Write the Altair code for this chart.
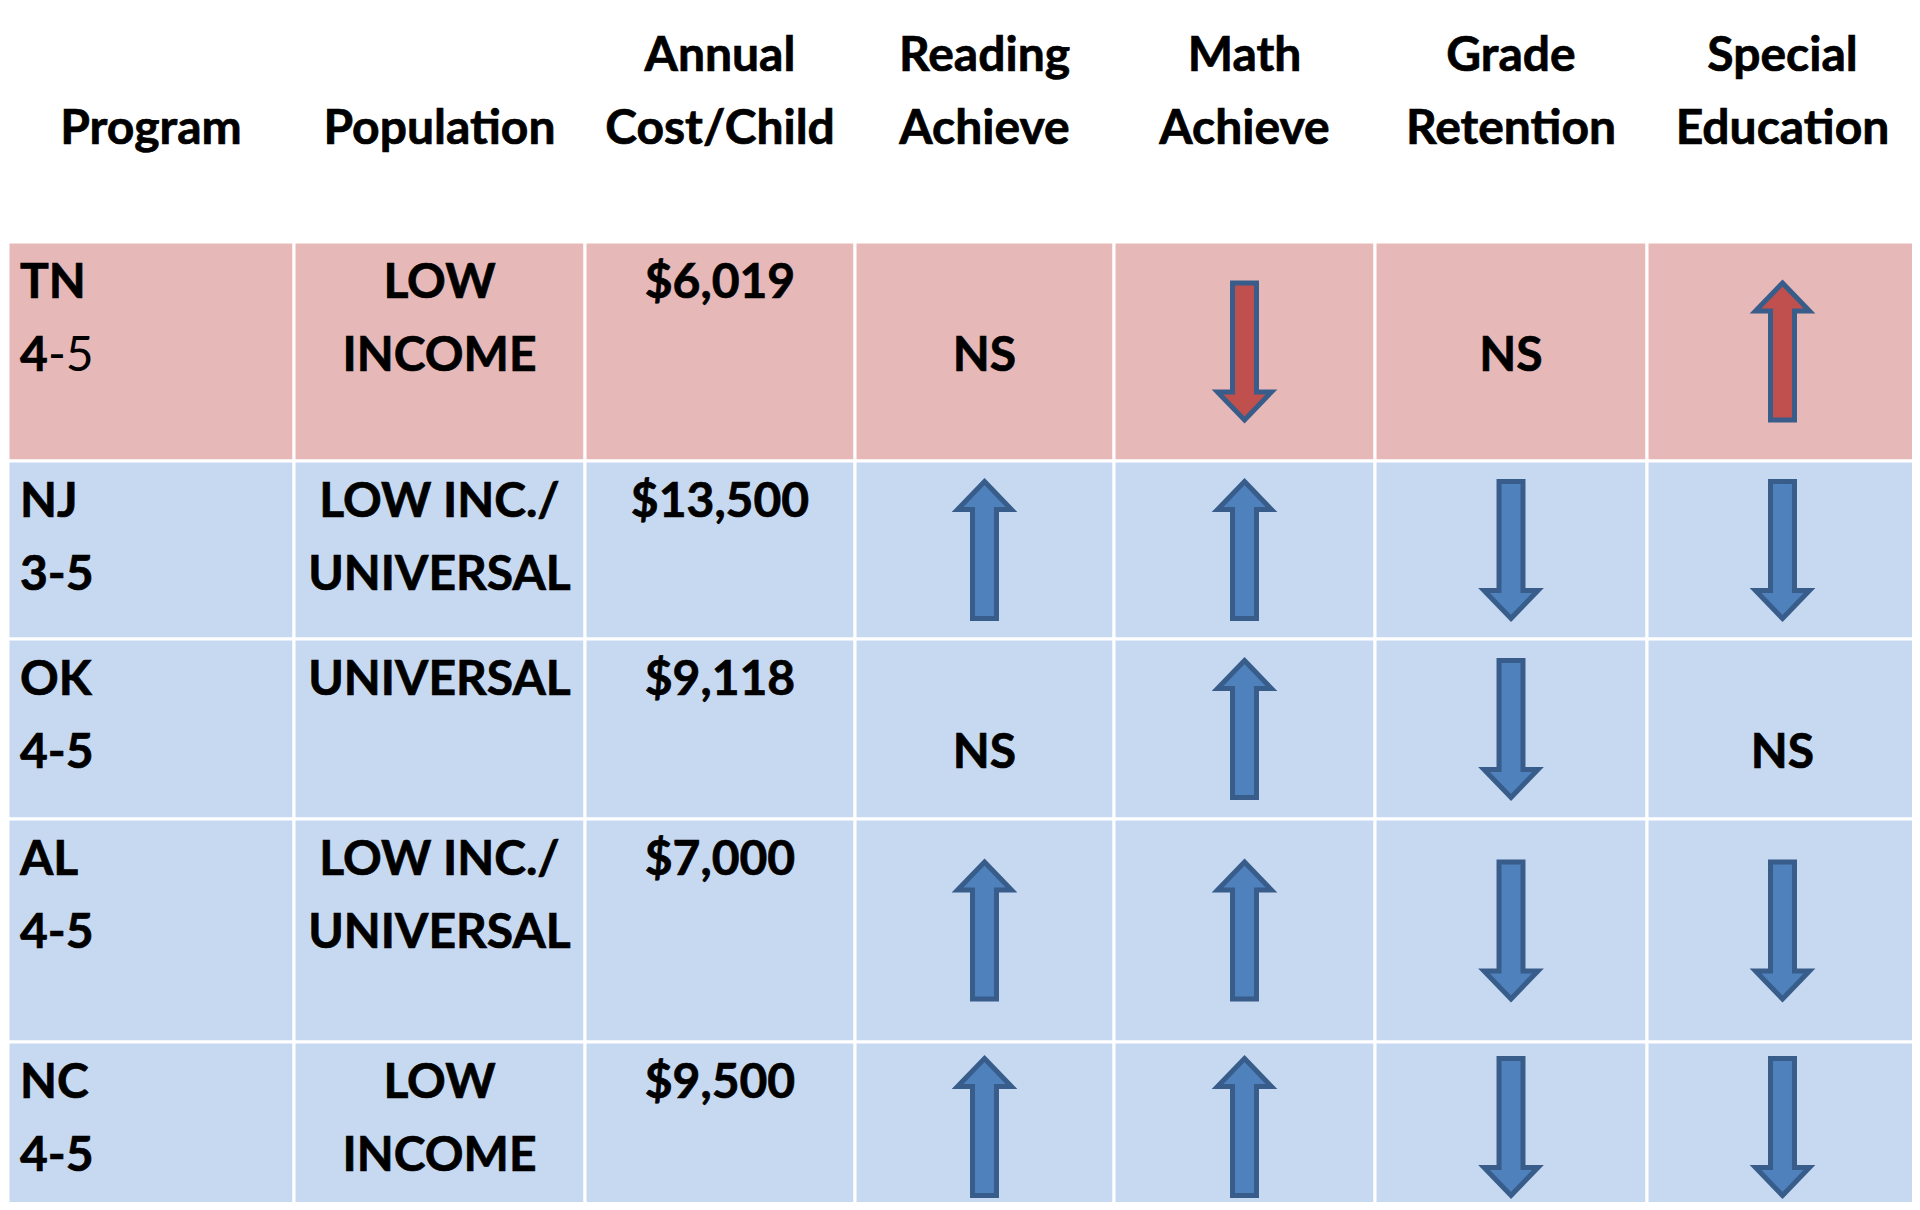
import altair as alt
import pandas as pd

# ---------------- data ----------------
HEADER_LINE1 = ["", "", "Annual", "Reading", "Math", "Grade", "Special"]
HEADER_LINE2 = ["Program", "Population", "Cost/Child", "Achieve", "Achieve", "Retention", "Education"]

STATES = ["TN", "NJ", "OK", "AL", "NC"]
AGE_BOLD = ["4", "3-5", "4-5", "4-5", "4-5"]
AGE_REGULAR = ["-5", "", "", "", ""]
POP_LINE1 = ["LOW", "LOW INC./", "UNIVERSAL", "LOW INC./", "LOW"]
POP_LINE2 = ["INCOME", "UNIVERSAL", "", "UNIVERSAL", "INCOME"]
COST = ["$6,019", "$13,500", "$9,118", "$7,000", "$9,500"]
READING = ["NS", "up", "NS", "up", "up"]
MATH = ["down", "up", "up", "up", "up"]
GRADE = ["NS", "down", "down", "down", "down"]
SPECIAL_ED = ["up", "down", "NS", "down", "down"]
ROW_TONE = ["adverse", "favorable", "favorable", "favorable", "favorable"]

# ---------------- layout ----------------
W, H = 1904, 1194
X_START, Y_START = 8, 6
COL_WIDTHS = [286, 291, 270, 259, 261, 272, 271]
ROW_HEIGHTS = [236, 219, 178, 180, 223, 170]
HEAD_LINE_OFF = (51, 124)
BODY_LINE_OFF = (42, 115)
LEFT_INSET = 12

col_edges = [X_START]
for w in COL_WIDTHS:
    col_edges.append(col_edges[-1] + w)
row_edges = [Y_START]
for h in ROW_HEIGHTS:
    row_edges.append(row_edges[-1] + h)
col_center = [(col_edges[i] + col_edges[i + 1]) / 2 for i in range(7)]

# cells
cells = []
for r in range(6):
    tone = "header" if r == 0 else ROW_TONE[r - 1]
    for c in range(7):
        cells.append(dict(x=col_edges[c], x2=col_edges[c + 1], y=row_edges[r], y2=row_edges[r + 1], tone=tone))
cells_df = pd.DataFrame(cells)

# centred text and arrows
center_txt = []
for c in range(7):
    if HEADER_LINE1[c]:
        center_txt.append(dict(x=col_center[c], y=Y_START + HEAD_LINE_OFF[0], t=HEADER_LINE1[c]))
    center_txt.append(dict(x=col_center[c], y=Y_START + HEAD_LINE_OFF[1], t=HEADER_LINE2[c]))
outcomes = [READING, MATH, GRADE, SPECIAL_ED]
arrows = []
for i in range(5):
    top = row_edges[i + 1]
    l1, l2 = top + BODY_LINE_OFF[0], top + BODY_LINE_OFF[1]
    if POP_LINE1[i]:
        center_txt.append(dict(x=col_center[1], y=l1, t=POP_LINE1[i]))
    if POP_LINE2[i]:
        center_txt.append(dict(x=col_center[1], y=l2, t=POP_LINE2[i]))
    center_txt.append(dict(x=col_center[2], y=l1, t=COST[i]))
    for k, series in enumerate(outcomes):
        v = series[i]
        c = 3 + k
        if v == "NS":
            center_txt.append(dict(x=col_center[c], y=l2, t="NS"))
        else:
            arrows.append(dict(x=col_center[c], y=(top + row_edges[i + 2]) / 2, dir=v, effect=ROW_TONE[i]))
center_df = pd.DataFrame(center_txt)
arrows_df = pd.DataFrame(arrows)

left_bold = []
left_reg = []
for i in range(5):
    top = row_edges[i + 1]
    left_bold.append(dict(x=col_edges[0] + LEFT_INSET, y=top + BODY_LINE_OFF[0], t=STATES[i]))
    left_bold.append(dict(x=col_edges[0] + LEFT_INSET, y=top + BODY_LINE_OFF[1], t=AGE_BOLD[i]))
    if AGE_REGULAR[i]:
        left_reg.append(dict(x=col_edges[0] + LEFT_INSET, y=top + BODY_LINE_OFF[1], t=AGE_REGULAR[i]))
left_bold_df = pd.DataFrame(left_bold)
left_reg_df = pd.DataFrame(left_reg)

xs = alt.Scale(domain=[X_START, X_START + W], nice=False, zero=False)
ys = alt.Scale(domain=[Y_START + 2 + H, Y_START + 2], nice=False, zero=False)
X = alt.X("x:Q", scale=xs, axis=None)
Y = alt.Y("y:Q", scale=ys, axis=None)

FONT = "Lato"
FS = 48
TXT = dict(font=FONT, fontSize=FS, fontWeight="bold", color="black", fill="black",
           stroke="black", strokeWidth=0.7, baseline="middle")

cells_layer = alt.Chart(cells_df).mark_rect(stroke="white", strokeWidth=3, clip=True).encode(
    x=X, x2="x2:Q", y=Y, y2="y2:Q",
    fill=alt.Fill("tone:N", scale=alt.Scale(domain=["header", "adverse", "favorable"],
                                             range=["#FFFFFF", "#E6B8B7", "#C6D9F1"]), legend=None),
)

center_layer = alt.Chart(center_df).mark_text(align="center", **TXT).encode(x=X, y=Y, text="t:N")
left_layer = alt.Chart(left_bold_df).mark_text(align="left", **TXT).encode(x=X, y=Y, text="t:N")
left_reg_layer = alt.Chart(left_reg_df).mark_text(font=FONT, fontSize=FS, fontWeight="normal", color="black",
                                                   align="left", baseline="middle", dx=28).encode(x=X, y=Y, text="t:N")

UP = "M0,-1 L0.394,-0.59 L0.175,-0.59 L0.175,1 L-0.175,1 L-0.175,-0.59 L-0.394,-0.59 Z"
DOWN = "M0,1 L0.394,0.59 L0.175,0.59 L0.175,-1 L-0.175,-1 L-0.175,0.59 L-0.394,0.59 Z"

arrow_layer = alt.Chart(arrows_df).mark_point(filled=True, opacity=1, fillOpacity=1, stroke="#385D8A",
                                              strokeWidth=5, strokeOpacity=1, strokeJoin="miter",
                                              size=137 * 137, clip=True).encode(
    x=X, y=Y,
    shape=alt.Shape("dir:N", scale=alt.Scale(domain=["up", "down"], range=[UP, DOWN]), legend=None),
    fill=alt.Fill("effect:N", scale=alt.Scale(domain=["adverse", "favorable"], range=["#C0504D", "#4F81BD"]),
                  legend=None),
)

chart = alt.layer(cells_layer, arrow_layer, center_layer, left_layer, left_reg_layer).resolve_scale(
    fill="independent"
).properties(
    width=W, height=H, padding=0, autosize=alt.AutoSizeParams(type="none"), background="white"
).configure_view(stroke=None)

chart.save("out.html", embed_options={"renderer": "svg", "actions": False})
